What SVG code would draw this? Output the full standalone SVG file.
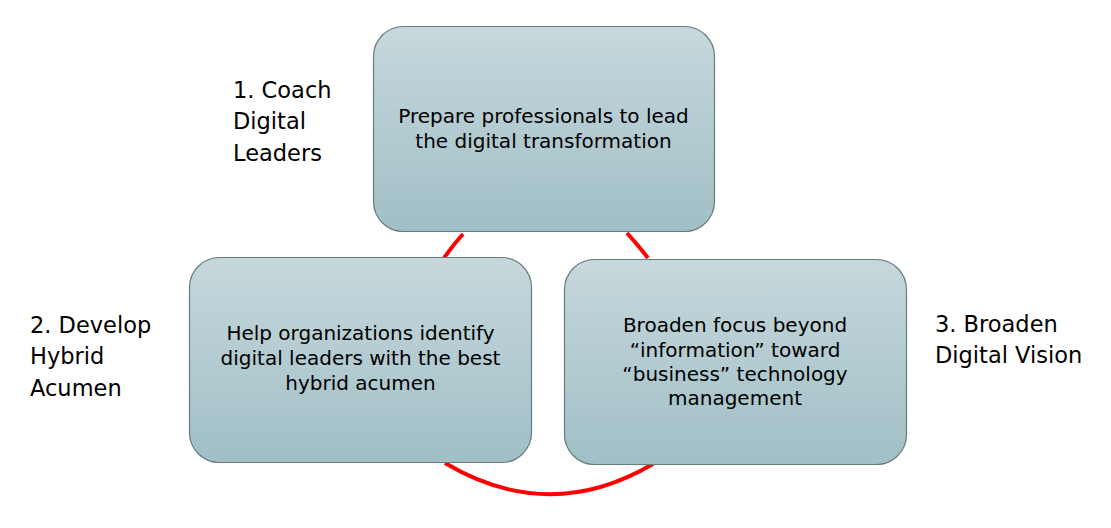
<svg xmlns="http://www.w3.org/2000/svg" width="1111" height="528" viewBox="0 0 1111 528">
<defs>
<linearGradient id="g" x1="0" y1="0" x2="0" y2="1">
<stop offset="0" stop-color="#C6D8DC"/>
<stop offset="1" stop-color="#A0BFC6"/>
</linearGradient>
<style>
.box{fill:url(#g);stroke:#667A7F;stroke-width:1.2}
.t{font-family:"DejaVu Sans",sans-serif;font-size:20px;fill:#000;text-anchor:middle}
.l{font-family:"DejaVu Sans",sans-serif;font-size:22.5px;fill:#000}
.c{fill:none;stroke:#FF0000;stroke-width:4}
</style>
</defs>
<rect width="1111" height="528" fill="#fff"/>
<g id="connectors">
<path class="c" d="M444,258 Q453,245 463,234"/>
<path class="c" d="M627,233 Q638,245 648,258"/>
<path class="c" d="M445,463 Q549,525 653,464"/>
</g>
<g id="node1">
<rect class="box" x="373.5" y="26.5" width="341" height="205" rx="30"/>
<text class="t" x="543.5" y="123">Prepare professionals to lead</text>
<text class="t" x="543.5" y="148">the digital transformation</text>
</g>
<g id="node2">
<rect class="box" x="189.5" y="257.5" width="342" height="205" rx="30"/>
<text class="t" x="360.5" y="340">Help organizations identify</text>
<text class="t" x="360.5" y="365">digital leaders with the best</text>
<text class="t" x="360.5" y="390">hybrid acumen</text>
</g>
<g id="node3">
<rect class="box" x="564.5" y="259.5" width="342" height="205" rx="30"/>
<text class="t" x="735" y="332">Broaden focus beyond</text>
<text class="t" x="735" y="357">“information” toward</text>
<text class="t" x="735" y="381">“business” technology</text>
<text class="t" x="735" y="405">management</text>
</g>
<g id="label1">
<text class="l" x="233" y="98">1. Coach</text>
<text class="l" x="233" y="129">Digital</text>
<text class="l" x="233" y="161">Leaders</text>
</g>
<g id="label2">
<text class="l" x="30" y="333">2. Develop</text>
<text class="l" x="30" y="364">Hybrid</text>
<text class="l" x="30" y="396">Acumen</text>
</g>
<g id="label3">
<text class="l" x="935" y="332">3. Broaden</text>
<text class="l" x="935" y="363">Digital Vision</text>
</g>
</svg>
